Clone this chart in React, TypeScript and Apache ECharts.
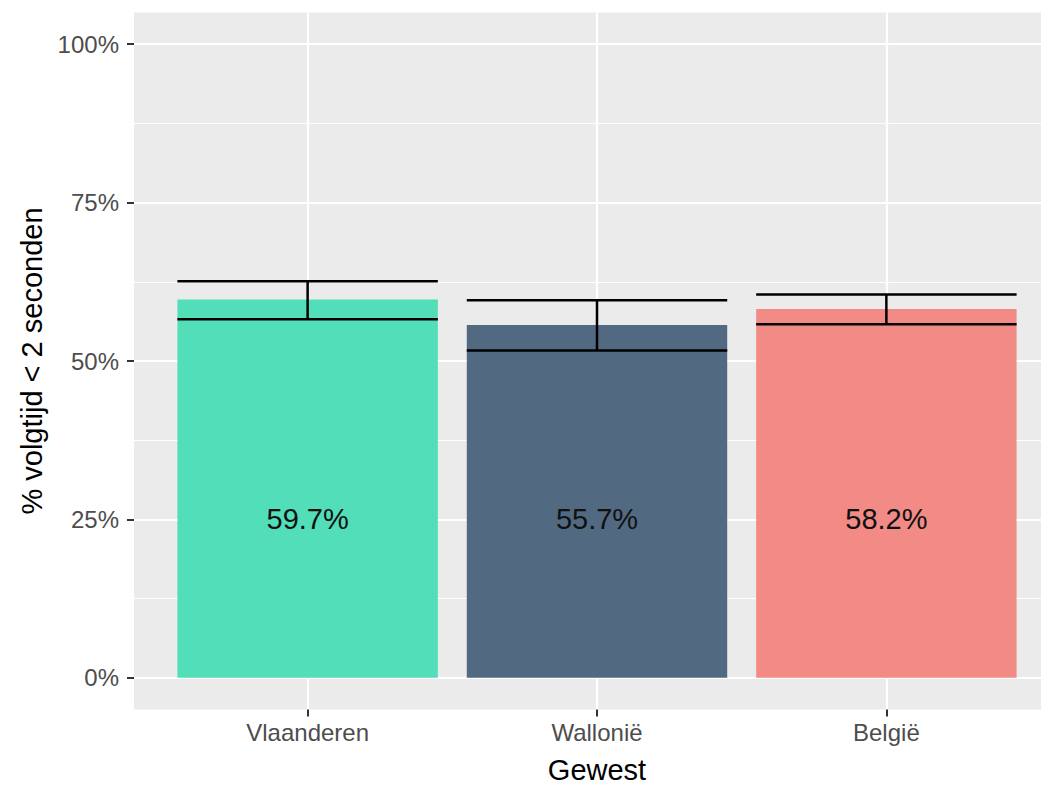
import React, { useEffect, useRef } from "react";
import * as echarts from "echarts";

const categories = ["Vlaanderen", "Wallonië", "België"];
const share = [59.7, 55.7, 58.2];
const lower = [56.6, 51.65, 55.8];
const upper = [62.6, 59.6, 60.5];
const yTicks = [0, 25, 50, 75, 100];
const yMinor = [12.5, 37.5, 62.5, 87.5];
const xTicks = [1, 2, 3];
const labelY = 25;

const barColors = ["#51DEB8", "#516A82", "#F28B85"];
const FONT = "'Liberation Sans', Arial, Helvetica, sans-serif";

export default function App() {
  const ref = useRef<HTMLDivElement>(null);
  useEffect(() => {
    if (!ref.current) return;
    const chart = echarts.init(ref.current, null, { renderer: "svg" });
    const data = categories.map((c, i) => [i + 1, share[i], lower[i], upper[i]]);
    chart.setOption({
      animation: false,
      backgroundColor: "#FFFFFF",
      textStyle: { fontFamily: FONT },
      grid: {
        left: 134,
        top: 12.5,
        width: 926,
        height: 697,
        show: true,
        backgroundColor: "#EBEBEB",
        borderWidth: 0,
        containLabel: false,
        outerBoundsMode: "none",
      },
      xAxis: {
        type: "value",
        min: 0.4,
        max: 3.6,
        position: "bottom",
        name: "Gewest",
        nameLocation: "middle",
        nameGap: 46,
        nameTextStyle: { fontSize: 29, color: "#000000", fontFamily: FONT },
        axisLine: { show: false, onZero: false },
        axisTick: {
          show: true,
          inside: false,
          customValues: xTicks,
          length: 7,
          lineStyle: { color: "#333333", width: 2 },
        },
        axisLabel: {
          customValues: xTicks,
          margin: 11,
          fontSize: 24,
          color: "#4D4D4D",
          fontFamily: FONT,
          formatter: (v: number) => categories[Math.round(v) - 1] ?? "",
        },
        splitLine: { show: true, lineStyle: { color: "#FFFFFF", width: 2.2 } },
      },
      yAxis: [
        {
          type: "value",
          min: -5,
          max: 105,
          name: "% volgtijd < 2 seconden",
          nameLocation: "middle",
          nameRotate: 90,
          nameGap: 88,
          nameTextStyle: { fontSize: 29, color: "#000000", fontFamily: FONT },
          axisLine: { show: false, onZero: false },
          axisTick: {
            show: true,
            customValues: yTicks,
            length: 7,
            lineStyle: { color: "#333333", width: 2 },
          },
          axisLabel: {
            customValues: yTicks,
            margin: 15,
            fontSize: 24,
            color: "#4D4D4D",
            fontFamily: FONT,
            formatter: (v: number) => `${v}%`,
          },
          splitLine: { show: true, lineStyle: { color: "#FFFFFF", width: 2.2 } },
        },
        {
          type: "value",
          min: -5,
          max: 105,
          position: "left",
          axisLine: { show: false, onZero: false },
          axisTick: { show: false, customValues: yMinor },
          axisLabel: { show: false, customValues: yMinor },
          splitLine: { show: true, lineStyle: { color: "#FFFFFF", width: 1.1 } },
        },
      ],
      series: [
        {
          type: "custom",
          xAxisIndex: 0,
          yAxisIndex: 0,
          data,
          renderItem: (params: any, api: any) => {
            const x = api.value(0);
            const v = api.value(1);
            const lo = api.value(2);
            const hi = api.value(3);
            const idx = Math.round(x) - 1;
            const w = api.size([0.9, 0])[0];
            const top = api.coord([x, v]);
            const base = api.coord([x, 0]);
            const pLo = api.coord([x, lo]);
            const pHi = api.coord([x, hi]);
            const pLab = api.coord([x, labelY]);
            const left = top[0] - w / 2;
            const right = top[0] + w / 2;
            const ls = { stroke: "#000000", lineWidth: 2.5 };
            return {
              type: "group",
              children: [
                {
                  type: "rect",
                  shape: { x: left, y: top[1], width: w, height: base[1] - top[1] },
                  style: { fill: barColors[idx] },
                },
                {
                  type: "line",
                  shape: { x1: left, y1: pHi[1], x2: right, y2: pHi[1] },
                  style: ls,
                },
                {
                  type: "line",
                  shape: { x1: left, y1: pLo[1], x2: right, y2: pLo[1] },
                  style: ls,
                },
                {
                  type: "line",
                  shape: { x1: pHi[0], y1: pHi[1], x2: pLo[0], y2: pLo[1] },
                  style: ls,
                },
                {
                  type: "text",
                  x: pLab[0],
                  y: pLab[1],
                  style: {
                    text: `${v.toFixed(1)}%`,
                    fill: "#111111",
                    fontSize: 29,
                    fontFamily: FONT,
                    align: "center",
                    verticalAlign: "middle",
                  },
                },
              ],
            };
          },
        },
      ],
    });
    return () => chart.dispose();
  }, []);
  return (
    <div
      style={{
        position: "absolute",
        left: 0,
        top: 0,
        width: 1041,
        height: 785,
        overflow: "hidden",
        background: "#FFFFFF",
      }}
    >
      <div ref={ref} style={{ width: 1075, height: 785 }} />
    </div>
  );
}
